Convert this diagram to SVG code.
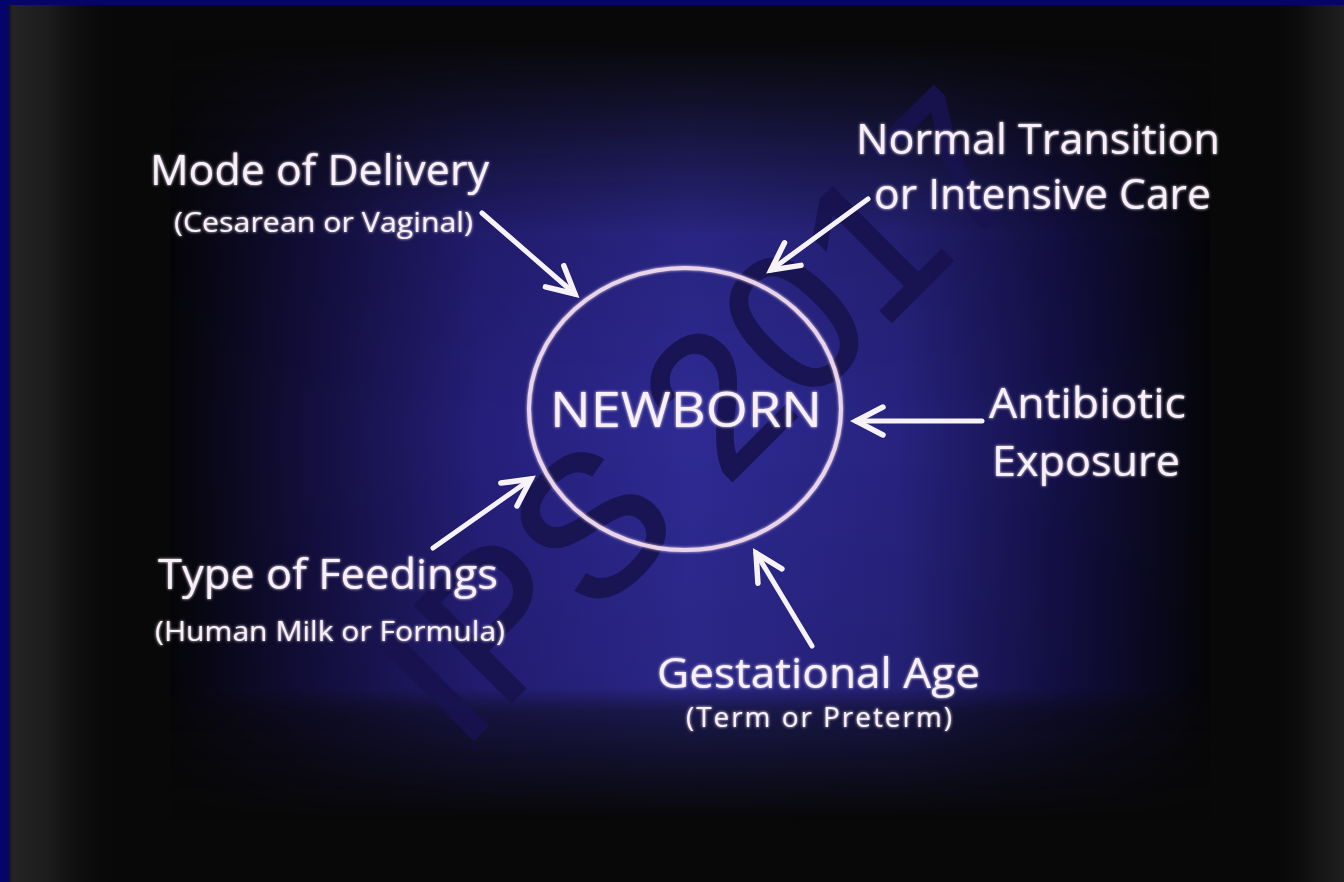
<svg xmlns="http://www.w3.org/2000/svg" width="1344" height="882" viewBox="0 0 1344 882">
  <defs>
    <style>
      .lbl { font-family: "Open Sans", "Liberation Sans", sans-serif; fill: #f8eff8; }
      .h { font-size: 42px; }
      .s { font-size: 28px; }
      .arrow { stroke: #f6f2f8; stroke-width: 5; fill: none; stroke-linecap: round; }
    </style>
    <marker id="head" markerUnits="userSpaceOnUse" markerWidth="40" markerHeight="40" refX="0" refY="0" orient="auto" overflow="visible">
      <path d="M-27,-14 L0,0 L-27,14" fill="none" stroke="#f6f2f8" stroke-width="5.5" stroke-linejoin="miter" stroke-linecap="round"/>
    </marker>
    <linearGradient id="gh" x1="170" y1="0" x2="1210" y2="0" gradientUnits="userSpaceOnUse">
      <stop offset="0" stop-color="#050508"/>
      <stop offset="0.12" stop-color="#120d38"/>
      <stop offset="0.3" stop-color="#251f7a"/>
      <stop offset="0.5" stop-color="#2e2a93"/>
      <stop offset="0.7" stop-color="#27237f"/>
      <stop offset="0.86" stop-color="#130f44"/>
      <stop offset="1" stop-color="#050508"/>
    </linearGradient>
    <linearGradient id="gv" x1="0" y1="40" x2="0" y2="820" gradientUnits="userSpaceOnUse">
      <stop offset="0" stop-color="#000"/>
      <stop offset="0.1" stop-color="#555"/>
      <stop offset="0.25" stop-color="#e0e0e0"/>
      <stop offset="0.5" stop-color="#fff"/>
      <stop offset="0.83" stop-color="#e8e8e8"/>
      <stop offset="0.86" stop-color="#7a7a7a"/>
      <stop offset="0.95" stop-color="#2a2a2a"/>
      <stop offset="1" stop-color="#000"/>
    </linearGradient>
    <mask id="mv" maskUnits="userSpaceOnUse" x="0" y="0" width="1344" height="882">
      <rect x="0" y="0" width="1344" height="882" fill="url(#gv)"/>
    </mask>
    <linearGradient id="gl" x1="9" y1="0" x2="120" y2="0" gradientUnits="userSpaceOnUse">
      <stop offset="0" stop-color="#141414"/>
      <stop offset="0.03" stop-color="#242424"/>
      <stop offset="0.35" stop-color="#1c1c1c"/>
      <stop offset="1" stop-color="#080808" stop-opacity="0"/>
    </linearGradient>
    <linearGradient id="gr" x1="1270" y1="0" x2="1344" y2="0" gradientUnits="userSpaceOnUse">
      <stop offset="0" stop-color="#080808" stop-opacity="0"/>
      <stop offset="0.6" stop-color="#141414"/>
      <stop offset="1" stop-color="#1e1e1e"/>
    </linearGradient>
    <filter id="glow" x="-10%" y="-30%" width="120%" height="160%">
      <feGaussianBlur in="SourceGraphic" stdDeviation="1.6" result="b"/>
      <feMerge><feMergeNode in="b"/><feMergeNode in="SourceGraphic"/></feMerge>
    </filter>
  </defs>

  <!-- background -->
  <rect x="0" y="0" width="1344" height="882" fill="#04046a"/>
  <rect x="9" y="5" width="1335" height="877" fill="#080808"/>
  <rect x="9" y="5" width="111" height="877" fill="url(#gl)"/>
  <rect x="1270" y="5" width="74" height="877" fill="url(#gr)"/>
  <rect x="170" y="40" width="1040" height="780" fill="url(#gh)" mask="url(#mv)"/>

  <!-- watermark -->
  <text x="461" y="752" transform="rotate(-45 461 752)" font-family="Liberation Sans, Arial, sans-serif" font-size="198" fill="#18134f" stroke="#18134f" stroke-width="3" opacity="0.92">IPS 2017</text>

  <!-- connectors -->
  <g id="connectors" class="arrow">
    <line x1="482" y1="213" x2="575" y2="294" marker-end="url(#head)"/>
    <line x1="868" y1="199" x2="771" y2="270" marker-end="url(#head)"/>
    <line x1="982" y1="421" x2="856" y2="421" marker-end="url(#head)"/>
    <line x1="433" y1="548" x2="531" y2="479" marker-end="url(#head)"/>
    <line x1="812" y1="646" x2="756" y2="553" marker-end="url(#head)"/>
  </g>

  <!-- center node -->
  <g id="newborn">
    <ellipse cx="685" cy="409" rx="156" ry="141" fill="none" stroke="#ead4ea" stroke-width="4" filter="url(#glow)"/>
    <text class="lbl" x="550" y="427" font-size="49" textLength="272" lengthAdjust="spacingAndGlyphs" filter="url(#glow)">NEWBORN</text>
  </g>

  <g id="mode-of-delivery" filter="url(#glow)">
    <text class="lbl h" x="150" y="185" textLength="339" lengthAdjust="spacingAndGlyphs">Mode of Delivery</text>
    <text class="lbl s" x="174" y="232" textLength="299" lengthAdjust="spacingAndGlyphs">(Cesarean or Vaginal)</text>
  </g>

  <g id="care" filter="url(#glow)">
    <text class="lbl h" x="856" y="154" textLength="364" lengthAdjust="spacingAndGlyphs">Normal Transition</text>
    <text class="lbl h" x="874" y="209" textLength="337" lengthAdjust="spacingAndGlyphs">or Intensive Care</text>
  </g>

  <g id="antibiotic" filter="url(#glow)">
    <text class="lbl h" x="989" y="418" textLength="197" lengthAdjust="spacingAndGlyphs">Antibiotic</text>
    <text class="lbl h" x="992" y="476" textLength="188" lengthAdjust="spacingAndGlyphs">Exposure</text>
  </g>

  <g id="feedings" filter="url(#glow)">
    <text class="lbl h" x="158" y="589" textLength="340" lengthAdjust="spacingAndGlyphs">Type of Feedings</text>
    <text class="lbl s" x="155" y="641" textLength="350" lengthAdjust="spacingAndGlyphs">(Human Milk or Formula)</text>
  </g>

  <g id="gestational-age" filter="url(#glow)">
    <text class="lbl h" x="657" y="688" textLength="323" lengthAdjust="spacingAndGlyphs">Gestational Age</text>
    <text class="lbl s" x="686" y="727" textLength="266" lengthAdjust="spacing">(Term or Preterm)</text>
  </g>
</svg>
